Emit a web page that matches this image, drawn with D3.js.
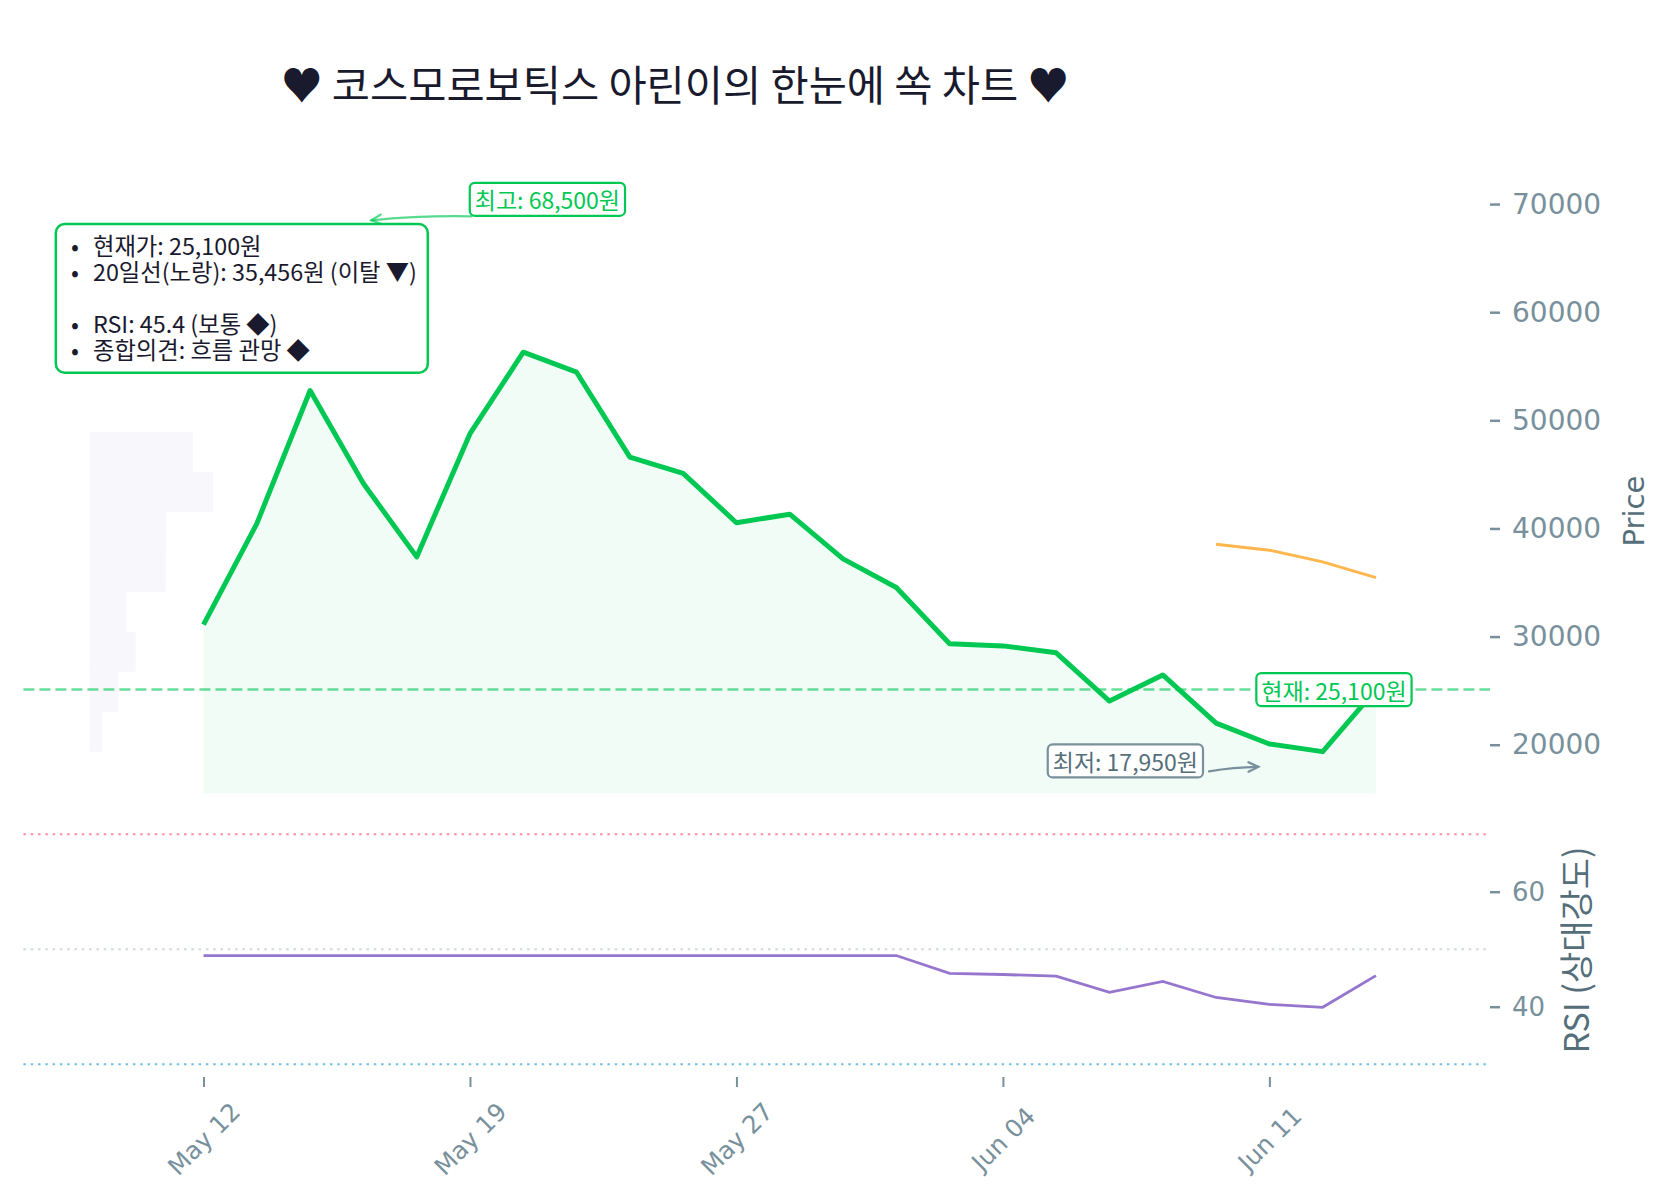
<!DOCTYPE html>
<html>
<head>
<meta charset="utf-8">
<script src="https://cdn.jsdelivr.net/npm/d3@7"></script>
<style>
body { margin: 0; background: #fff; }
</style>
</head>
<body>
<svg id="chart" width="1671" height="1204"></svg>
<script>
// Values
var tickIdx = [0, 5, 10, 15, 20];
var tickLabels = ["May 12", "May 19", "May 27", "Jun 04", "Jun 11"];
var closes = [31110, 40450, 52760, 44150, 37370, 48760, 56300, 54450, 46600, 45100,
              40530, 41320, 37190, 34540, 29330, 29140, 28500, 24040, 26450, 21990,
              20070, 19360, 25100];
var ma20 = [null, null, null, null, null, null, null, null, null, null,
            null, null, null, null, null, null, null, null, null, 38540,
            37990, 36910, 35456];
var rsi = [48.9, 48.9, 48.9, 48.9, 48.9, 48.9, 48.9, 48.9, 48.9, 48.9,
           48.9, 48.9, 48.9, 48.9, 45.8, 45.6, 45.3, 42.5, 44.4, 41.6,
           40.4, 39.9, 45.4];
// volume by price, low bin -> high bin
var profileVol = [0.41, 0.93, 1.49, 1.19, 2.46, 2.48, 4.0, 3.35, 0, 0];
var priceTicks = [20000, 30000, 40000, 50000, 60000, 70000];
var rsiTicks = [40, 60];
var rsiLevels = [70, 50, 30];
var rsiLevelColors = ["#ff8fa3", "#cfd8dc", "#6ec1e8"];
var lastPrice = 25100;
var highIdx = 3, highPrice = 68500;
var lowIdx = 20, lowPrice = 17950;
var infoLines = ["현재가: 25,100원", "20일선(노랑): 35,456원 (이탈 ▼)", "",
                 "RSI: 45.4 (보통 ◆)", "종합의견: 흐름 관망 ◆"];

var GREEN = "#00c853";
var AXIS = "#78909c";
var LABEL = "#546e7a";
var DARK = "#1a1a2e";
var KFONT = "'Noto Sans CJK KR', 'Noto Sans', sans-serif";
var NFONT = "'DejaVu Sans', sans-serif";

var svg = d3.select("#chart");
svg.append("rect").attr("width", 1671).attr("height", 1204).attr("fill", "#fff");

var x = d3.scaleLinear().domain([-3.38, 24.14]).range([23.4, 1490]);
var yP = d3.scaleLinear().domain([13500, 75000]).range([815, 150]);
var yR = d3.scaleLinear().domain([28, 72]).range([1075.7, 822.7]);

// Title
svg.append("text")
    .attr("x", 675).attr("y", 83)
    .attr("text-anchor", "middle")
    .attr("dominant-baseline", "central")
    .style("font-family", KFONT)
    .style("font-size", "41.5px")
    .attr("fill", DARK)
    .text("♥ 코스모로보틱스 아린이의 한눈에 쏙 차트 ♥");

// Volume profile on the left
var pMin = d3.min(closes), pMax = d3.max(closes);
var binStep = (pMax - pMin) / profileVol.length;
var vx = d3.scaleLinear().domain([0, d3.max(profileVol)]).range([0, 123.7]);
svg.append("g").selectAll("rect")
    .data(profileVol)
    .enter().append("rect")
    .attr("x", x(-2.14))
    .attr("y", function(d, i) { return yP(pMin + (i + 1) * binStep); })
    .attr("width", function(d) { return vx(d); })
    .attr("height", function(d, i) { return yP(pMin + i * binStep) - yP(pMin + (i + 1) * binStep); })
    .attr("fill", "#f7f7fc");

// Area under price
var base = d3.min(closes) * 0.8;
var area = d3.area()
    .x(function(d, i) { return x(i); })
    .y0(yP(base))
    .y1(function(d) { return yP(d); });
svg.append("path").datum(closes)
    .attr("d", area)
    .attr("fill", GREEN)
    .attr("fill-opacity", 0.06);

// Current price dashed line
svg.append("line")
    .attr("x1", x.range()[0]).attr("x2", x.range()[1])
    .attr("y1", yP(lastPrice)).attr("y2", yP(lastPrice))
    .attr("stroke", GREEN).attr("stroke-opacity", 0.6)
    .attr("stroke-width", 2.5)
    .attr("stroke-dasharray", "11,5");

// 20-day MA
var maLine = d3.line()
    .defined(function(d) { return d !== null; })
    .x(function(d, i) { return x(i); })
    .y(function(d) { return yP(d); });
svg.append("path").datum(ma20)
    .attr("d", maLine)
    .attr("fill", "none")
    .attr("stroke", "#ffb74d")
    .attr("stroke-width", 3);

// Price line
var priceLine = d3.line()
    .x(function(d, i) { return x(i); })
    .y(function(d) { return yP(d); });
svg.append("path").datum(closes)
    .attr("d", priceLine)
    .attr("fill", "none")
    .attr("stroke", GREEN)
    .attr("stroke-width", 5)
    .attr("stroke-linejoin", "round");

// RSI reference levels
svg.append("g").selectAll("line")
    .data(rsiLevels)
    .enter().append("line")
    .attr("x1", x.range()[0]).attr("x2", x.range()[1])
    .attr("y1", function(d) { return yR(d); })
    .attr("y2", function(d) { return yR(d); })
    .attr("stroke", function(d, i) { return rsiLevelColors[i]; })
    .attr("stroke-width", 2)
    .attr("stroke-dasharray", "2.5,4.8");

// RSI line
var rsiLine = d3.line()
    .x(function(d, i) { return x(i); })
    .y(function(d) { return yR(d); });
svg.append("path").datum(rsi)
    .attr("d", rsiLine)
    .attr("fill", "none")
    .attr("stroke", "#9575cd")
    .attr("stroke-width", 2.8);

// Axes
function styleAxis(g, size) {
    g.select(".domain").remove();
    g.selectAll(".tick line").attr("stroke", AXIS).attr("stroke-width", 2.5);
    g.selectAll(".tick text").attr("fill", AXIS)
        .style("font-family", NFONT).style("font-size", size);
}

var priceAxis = svg.append("g")
    .attr("transform", "translate(" + x.range()[1] + ",0)")
    .call(d3.axisRight(yP).tickValues(priceTicks).tickFormat(d3.format("d"))
        .tickSize(10).tickPadding(12));
styleAxis(priceAxis, "28px");

var rsiAxis = svg.append("g")
    .attr("transform", "translate(" + x.range()[1] + ",0)")
    .call(d3.axisRight(yR).tickValues(rsiTicks).tickSize(10).tickPadding(12));
styleAxis(rsiAxis, "26px");

var dateAxis = svg.append("g")
    .attr("transform", "translate(0,1077)")
    .call(d3.axisBottom(x).tickValues(tickIdx)
        .tickFormat(function(d, i) { return tickLabels[i]; })
        .tickSize(10));
styleAxis(dateAxis, "24.5px");
dateAxis.selectAll(".tick line").attr("stroke-width", 2);
dateAxis.selectAll(".tick text")
    .attr("y", 0).attr("dy", null)
    .attr("text-anchor", "middle")
    .attr("dominant-baseline", "central")
    .attr("transform", "translate(0,62) rotate(-45)");

svg.append("text")
    .attr("transform", "translate(1634,511) rotate(-90)")
    .attr("text-anchor", "middle").attr("dominant-baseline", "central")
    .style("font-family", NFONT).style("font-size", "29px")
    .attr("fill", LABEL)
    .text("Price");

svg.append("text")
    .attr("transform", "translate(1574,950) rotate(-90)")
    .attr("text-anchor", "middle").attr("dominant-baseline", "central")
    .style("font-family", KFONT).style("font-size", "34px")
    .attr("fill", LABEL)
    .text("RSI (상대강도)");

// Annotation helpers
function labelBox(cx, cy, txt, color, border) {
    var g = svg.append("g");
    var t = g.append("text")
        .attr("x", cx).attr("y", cy)
        .attr("text-anchor", "middle").attr("dominant-baseline", "central")
        .style("font-family", KFONT).style("font-size", "23px")
        .attr("fill", color)
        .text(txt);
    var b = t.node().getBBox();
    var r = {x: b.x - 5, y: cy - 16.5, w: b.width + 10, h: 33};
    g.insert("rect", "text")
        .attr("x", r.x).attr("y", r.y)
        .attr("width", r.w).attr("height", r.h)
        .attr("rx", 5)
        .attr("fill", "#fff")
        .attr("stroke", border).attr("stroke-width", 2.2);
    return r;
}

function arrow(x0, y0, x1, y1, bend, color, opacity) {
    var mx = (x0 + x1) / 2, my = (y0 + y1) / 2;
    var dx = x1 - x0, dy = y1 - y0;
    var len = Math.sqrt(dx * dx + dy * dy);
    var cx = mx - dy / len * bend, cy = my + dx / len * bend;
    var g = svg.append("g")
        .attr("fill", "none").attr("stroke", color)
        .attr("stroke-opacity", opacity).attr("stroke-width", 2.2)
        .attr("stroke-linecap", "round");
    g.append("path").attr("d", "M" + x0 + "," + y0 + "Q" + cx + "," + cy + " " + x1 + "," + y1);
    var ang = Math.atan2(y1 - cy, x1 - cx);
    var hl = 11, ha = 0.45;
    g.append("path").attr("d",
        "M" + (x1 - hl * Math.cos(ang - ha)) + "," + (y1 - hl * Math.sin(ang - ha)) +
        "L" + x1 + "," + y1 +
        "L" + (x1 - hl * Math.cos(ang + ha)) + "," + (y1 - hl * Math.sin(ang + ha)));
}

// High annotation
var hx = x(highIdx), hy = yP(highPrice);
var hBox = labelBox(hx + 184, hy - 21, "최고: " + d3.format(",")(highPrice) + "원", GREEN, GREEN);
arrow(hBox.x + 2, hBox.y + hBox.h + 0.5, hx + 8, hy, 3, GREEN, 0.65);

// Low annotation
var lx = x(lowIdx), ly = yP(lowPrice);
var lBox = labelBox(lx - 144, ly - 6, "최저: " + d3.format(",")(lowPrice) + "원", LABEL, AXIS);
arrow(lBox.x + lBox.w + 6, lBox.y + lBox.h - 6, lx - 11, ly, -2, AXIS, 1);

// Current annotation
labelBox(x(closes.length - 1) - 42, yP(lastPrice), "현재: " + d3.format(",")(lastPrice) + "원", GREEN, GREEN);

// Info box
var info = svg.append("g");
info.append("rect")
    .attr("x", 55.8).attr("y", 224)
    .attr("width", 372).attr("height", 148.7)
    .attr("rx", 9)
    .attr("fill", "#fff")
    .attr("stroke", GREEN).attr("stroke-width", 2.5);
var infoText = info.append("text")
    .style("font-family", KFONT).style("font-size", "23.3px")
    .attr("fill", DARK);
infoLines.forEach(function(line, i) {
    if (!line) return;
    var yy = 255 + i * 26;
    infoText.append("tspan").attr("x", 71).attr("y", yy).text("•");
    infoText.append("tspan").attr("x", 93).attr("y", yy).text(line);
});
</script>
</body>
</html>
